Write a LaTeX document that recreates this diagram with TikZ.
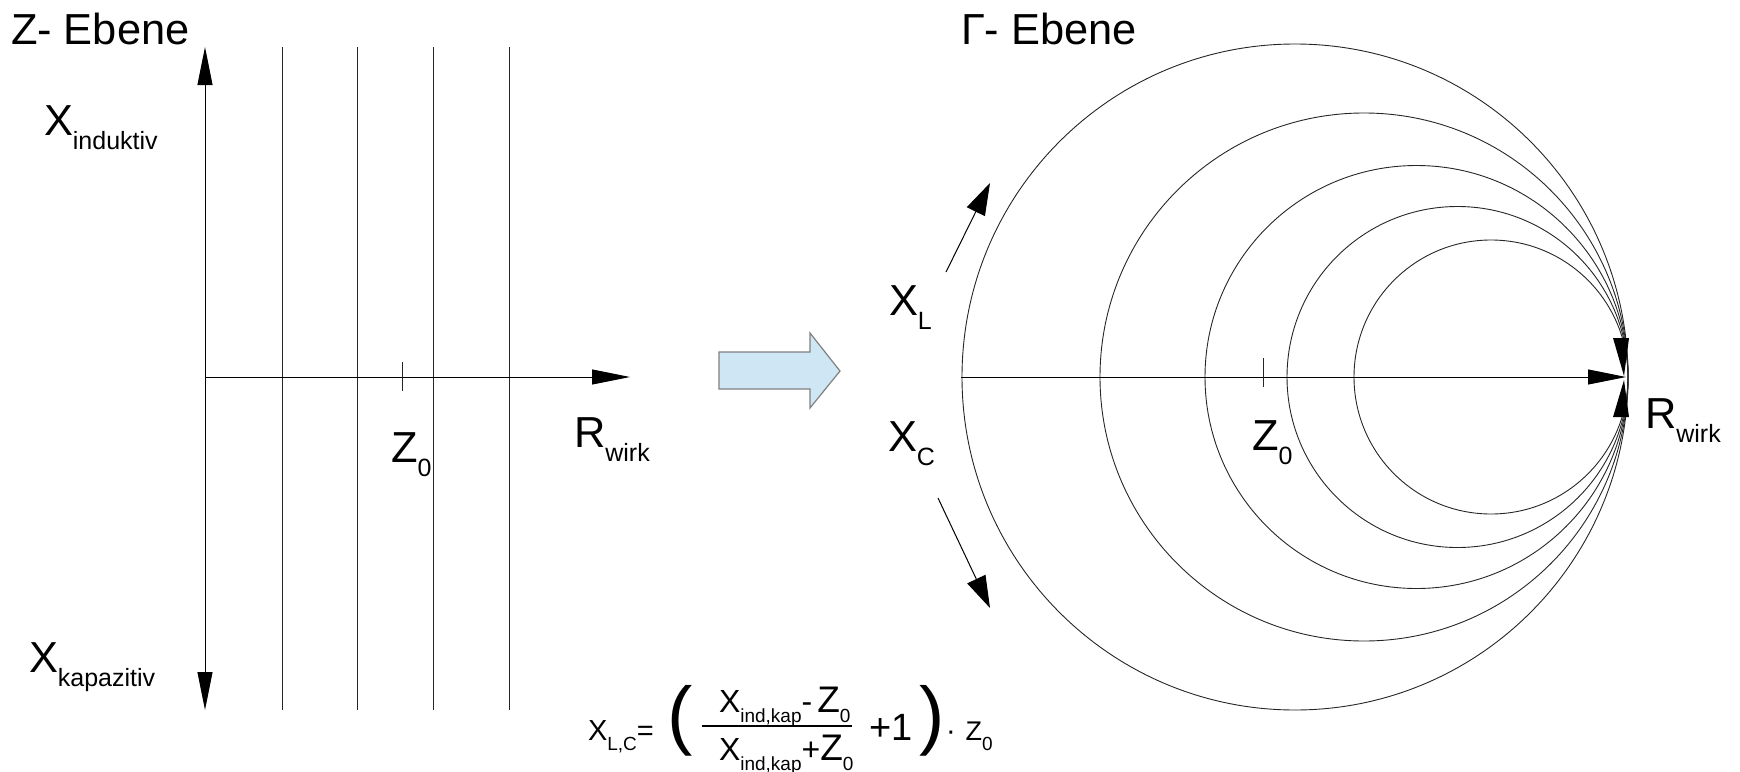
\documentclass[tikz,border=0pt]{standalone}
\usepackage{fontspec}
\setmainfont{Liberation Sans}
\usetikzlibrary{arrows.meta}
\newcommand{\fsz}[1]{\fontsize{#1}{#1}\selectfont}
\newcommand{\lbl}[2]{#1\raisebox{-7pt}{\fsz{12.5}#2}}
\newcommand{\sbs}[1]{\raisebox{-5pt}{\fsz{9.5}#1}}
\definecolor{arrowfill}{RGB}{207,231,245}
\definecolor{arrowline}{RGB}{128,128,128}
\tikzset{
  lab/.style={anchor=base west, inner sep=0pt, outer sep=0pt, font=\fsz{21.7}},
  flab/.style={anchor=base west, inner sep=0pt, outer sep=0pt, font=\fsz{14.5}},
  frlab/.style={anchor=base west, inner sep=0pt, outer sep=0pt, font=\fsz{16}},
  thin line/.style={line width=0.45pt, black!85},
  axis/.style={line width=0.5pt, -{Triangle[length=19pt,width=7.5pt]}},
  dblaxis/.style={line width=0.5pt, {Triangle[length=19pt,width=7.5pt]}-{Triangle[length=19pt,width=7.5pt]}},
  dirarrow/.style={line width=0.5pt, -{Triangle[length=16pt,width=10pt]}},
}
\begin{document}
\begin{tikzpicture}[x=0.5pt,y=-0.5pt]
\useasboundingbox (0,0) rectangle (1740,771);

% ---------- Left: Z-plane ----------
\node[lab] (zeb) at (11,44) {Z- Ebene};
\coordinate (vtop) at (205,47);
\coordinate (vbot) at (205,710);
\coordinate (o1) at (205,377);
\coordinate (r1) at (630,377);
\foreach \xx in {282,357,433,509}{
  \draw[thin line] (\xx,47) -- (\xx,710);
}
\draw[dblaxis] (vbot) -- (vtop);
\draw[axis] (o1) -- (r1);
\draw[thin line] (402,362) -- (402,391);
\node[lab] (xind) at (44,135) {\lbl{X}{induktiv}};
\node[lab] (xkap) at (29,672) {\lbl{X}{kapazitiv}};
\node[lab] (zl) at (391,462) {\lbl{Z}{0}};
\node[lab] (rl) at (574,447) {\lbl{R}{wirk}};

% ---------- Transformation arrow ----------
\draw[draw=arrowline, fill=arrowfill, line width=0.6pt]
  (719,352) -- (810,352) -- (810,333) -- (840,371) -- (810,408) -- (810,389) -- (719,389) -- cycle;

% ---------- Right: Gamma-plane ----------
\node[lab] (geb) at (961,44) {Γ- Ebene};
\coordinate (t) at (1628,377);
\coordinate (o2) at (961,377);
\foreach \rr in {333,264,211.5,170.5,137}{
  \draw[thin line] (1628-\rr,377) circle[radius=\rr];
}
\draw[axis] (o2) -- (1626,377);
\draw[thin line] (1263,358) -- (1263,387);
\fill (1613,338) -- (1629,338) -- (1624,376) -- cycle;
\fill (1613,417) -- (1629,417) -- (1624,380) -- cycle;
\node[lab] (zr) at (1252,450) {\lbl{Z}{0}};
\node[lab] (rr) at (1645,428) {\lbl{R}{wirk}};
\node[lab] (xl) at (889,315) {\lbl{X}{L}};
\node[lab] (xc) at (888,451) {\lbl{X}{C}};
\coordinate (al0) at (946,272);
\coordinate (al1) at (990,183);
\coordinate (ac0) at (938,498);
\coordinate (ac1) at (990,608);
\draw[dirarrow] (al0) -- (al1);
\draw[dirarrow] (ac0) -- (ac1);

% ---------- Formula ----------
\node[flab] (xlc) at (588,740) {X\sbs{L,C}=};
\node[anchor=base west, inner sep=0pt, font=\fsz{38}] (lp) at (667,740) {(};
\draw[line width=1pt] (702,726) -- (852,726);
\node[frlab] (num) at (719,712) {X\sbs{ind,kap}-\hspace{2.5pt}{\fsz{18.5}Z}\sbs{0}};
\node[frlab] (den) at (719,760) {X\sbs{ind,kap}+{\fsz{18.5}Z}\sbs{0}};
\node[anchor=base west, inner sep=0pt, font=\fsz{19}] (p1) at (869,740) {+1};
\node[anchor=base west, inner sep=0pt, font=\fsz{38}] (rp) at (919,740) {)};
\node[flab] (dz) at (946,740) {·\hspace{5pt}{\fsz{13.5}Z}\sbs{0}};
\end{tikzpicture}
\end{document}
